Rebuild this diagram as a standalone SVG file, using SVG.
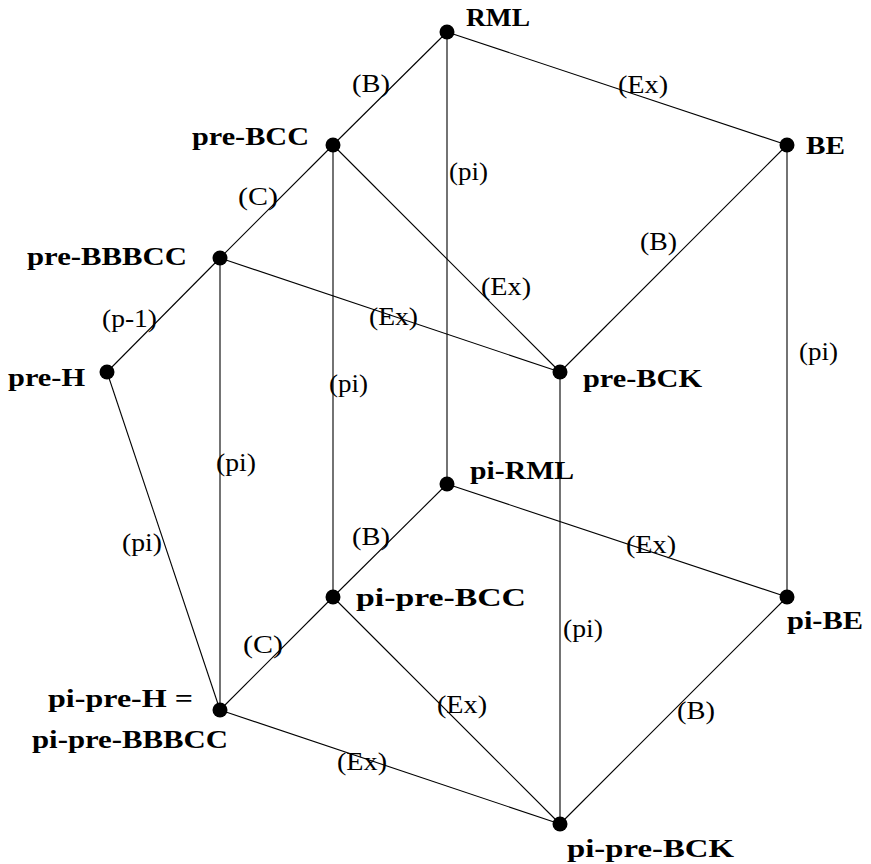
<svg xmlns="http://www.w3.org/2000/svg" width="871" height="864" viewBox="0 0 871 864">
<style>
.e{stroke:#000;stroke-width:1.1;fill:none}
.d{fill:#000}
.n{font-family:"Liberation Serif","DejaVu Serif",serif;font-weight:bold;font-size:26px;fill:#000}
.l{font-family:"Liberation Serif","DejaVu Serif",serif;font-size:25px;fill:#000}
</style>
<rect width="871" height="864" fill="#fff"/>
<g id="connectors">
<line class="e" x1="447" y1="32" x2="333" y2="145"/>
<line class="e" x1="447" y1="32" x2="787" y2="145"/>
<line class="e" x1="447" y1="32" x2="447" y2="484"/>
<line class="e" x1="333" y1="145" x2="220" y2="258"/>
<line class="e" x1="333" y1="145" x2="560" y2="372"/>
<line class="e" x1="333" y1="145" x2="333" y2="597"/>
<line class="e" x1="787" y1="145" x2="560" y2="372"/>
<line class="e" x1="787" y1="145" x2="787" y2="597"/>
<line class="e" x1="220" y1="258" x2="107" y2="372"/>
<line class="e" x1="220" y1="258" x2="560" y2="372"/>
<line class="e" x1="220" y1="258" x2="220" y2="710"/>
<line class="e" x1="107" y1="372" x2="220" y2="710"/>
<line class="e" x1="560" y1="372" x2="560" y2="824"/>
<line class="e" x1="447" y1="484" x2="333" y2="597"/>
<line class="e" x1="447" y1="484" x2="787" y2="597"/>
<line class="e" x1="333" y1="597" x2="220" y2="710"/>
<line class="e" x1="333" y1="597" x2="560" y2="824"/>
<line class="e" x1="220" y1="710" x2="560" y2="824"/>
<line class="e" x1="787" y1="597" x2="560" y2="824"/>
<text class="l" x="352" y="92" textLength="38" lengthAdjust="spacingAndGlyphs">(B)</text>
<text class="l" x="449" y="180" textLength="39" lengthAdjust="spacingAndGlyphs">(pi)</text>
<text class="l" x="618" y="93" textLength="50" lengthAdjust="spacingAndGlyphs">(Ex)</text>
<text class="l" x="238" y="205" textLength="40" lengthAdjust="spacingAndGlyphs">(C)</text>
<text class="l" x="640" y="250" textLength="37" lengthAdjust="spacingAndGlyphs">(B)</text>
<text class="l" x="481" y="295" textLength="50" lengthAdjust="spacingAndGlyphs">(Ex)</text>
<text class="l" x="369" y="325" textLength="49" lengthAdjust="spacingAndGlyphs">(Ex)</text>
<text class="l" x="102" y="327" textLength="55" lengthAdjust="spacingAndGlyphs">(p-1)</text>
<text class="l" x="329" y="392" textLength="39" lengthAdjust="spacingAndGlyphs">(pi)</text>
<text class="l" x="799" y="360" textLength="39" lengthAdjust="spacingAndGlyphs">(pi)</text>
<text class="l" x="216" y="471" textLength="40" lengthAdjust="spacingAndGlyphs">(pi)</text>
<text class="l" x="122" y="551" textLength="40" lengthAdjust="spacingAndGlyphs">(pi)</text>
<text class="l" x="352" y="545" textLength="38" lengthAdjust="spacingAndGlyphs">(B)</text>
<text class="l" x="626" y="553" textLength="50" lengthAdjust="spacingAndGlyphs">(Ex)</text>
<text class="l" x="563" y="637" textLength="40" lengthAdjust="spacingAndGlyphs">(pi)</text>
<text class="l" x="243" y="653" textLength="40" lengthAdjust="spacingAndGlyphs">(C)</text>
<text class="l" x="437" y="713" textLength="50" lengthAdjust="spacingAndGlyphs">(Ex)</text>
<text class="l" x="677" y="719" textLength="38" lengthAdjust="spacingAndGlyphs">(B)</text>
<text class="l" x="337" y="770" textLength="50" lengthAdjust="spacingAndGlyphs">(Ex)</text>
</g>
<g id="RML"><circle class="d" cx="447" cy="32" r="7.5"/><text class="n" x="466" y="26" textLength="64" lengthAdjust="spacingAndGlyphs">RML</text></g>
<g id="BE"><circle class="d" cx="787" cy="145" r="7.5"/><text class="n" x="806" y="154" textLength="39" lengthAdjust="spacingAndGlyphs">BE</text></g>
<g id="pre-BCC"><circle class="d" cx="333" cy="145" r="7.5"/><text class="n" x="192" y="145" textLength="117" lengthAdjust="spacingAndGlyphs">pre-BCC</text></g>
<g id="pre-BBBCC"><circle class="d" cx="220" cy="258" r="7.5"/><text class="n" x="27" y="265" textLength="160" lengthAdjust="spacingAndGlyphs">pre-BBBCC</text></g>
<g id="pre-H"><circle class="d" cx="107" cy="372" r="7.5"/><text class="n" x="8" y="386" textLength="77" lengthAdjust="spacingAndGlyphs">pre-H</text></g>
<g id="pre-BCK"><circle class="d" cx="560" cy="372" r="7.5"/><text class="n" x="583" y="387" textLength="119" lengthAdjust="spacingAndGlyphs">pre-BCK</text></g>
<g id="pi-RML"><circle class="d" cx="447" cy="484" r="7.5"/><text class="n" x="470" y="479" textLength="104" lengthAdjust="spacingAndGlyphs">pi-RML</text></g>
<g id="pi-pre-BCC"><circle class="d" cx="333" cy="597" r="7.5"/><text class="n" x="356" y="606" textLength="170" lengthAdjust="spacingAndGlyphs">pi-pre-BCC</text></g>
<g id="pi-BE"><circle class="d" cx="787" cy="597" r="7.5"/><text class="n" x="787" y="629" textLength="76" lengthAdjust="spacingAndGlyphs">pi-BE</text></g>
<g id="pi-pre-H"><circle class="d" cx="220" cy="710" r="7.5"/><text class="n" x="48" y="707" textLength="145" lengthAdjust="spacingAndGlyphs">pi-pre-H =</text><text class="n" x="32" y="748" textLength="196" lengthAdjust="spacingAndGlyphs">pi-pre-BBBCC</text></g>
<g id="pi-pre-BCK"><circle class="d" cx="560" cy="824" r="7.5"/><text class="n" x="567" y="857" textLength="167" lengthAdjust="spacingAndGlyphs">pi-pre-BCK</text></g>
</svg>
